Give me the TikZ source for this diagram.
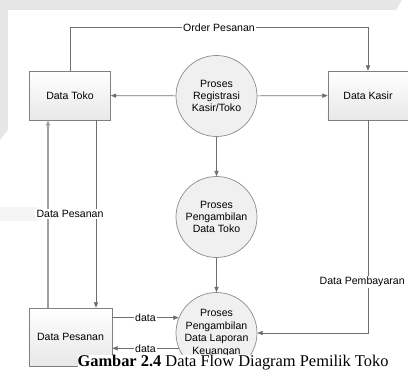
\documentclass[tikz,border=0pt]{standalone}
\usepackage{fontspec}
\setmainfont{Liberation Sans}
\newfontfamily\captionfont{Liberation Serif}
\usepackage{tikz}
\usetikzlibrary{arrows.meta, positioning, calc}

\definecolor{linegray}{HTML}{6E6E6E}
\definecolor{lightline}{HTML}{A0A0A0}
\definecolor{bordergray}{HTML}{808080}
\definecolor{pagegray}{HTML}{E6E6E6}

\begin{document}
\begin{tikzpicture}[x=0.03cm, y=-0.03cm,
    font=\fontsize{9}{10.6}\selectfont,
    store/.style={draw=bordergray, line width=0.6pt, top color=white, bottom color=black!9,
        minimum width=2.43cm, minimum height=1.47cm, inner sep=0pt},
    proc/.style={circle, draw=bordergray!90, line width=0.6pt, fill=black!6,
        minimum size=2.43cm, inner sep=0pt, align=center},
    flow/.style={draw=linegray, line width=0.6pt,
        -{Triangle[length=4.5pt, width=3.6pt]}},
    flowlight/.style={flow, draw=lightline, line width=1pt},
    lbl/.style={fill=white, inner sep=1pt}]
    \useasboundingbox (0,0) rectangle (408,370);

    % Page background
    \fill[pagegray] (0,0) -- (402,0) -- (396,10) -- (8,10) -- (8,130) -- (0,140) -- cycle;
    \fill[black!4] (0,207) rectangle (38,221);

    % Stores
    \node[store] (toko) at (70,95.5) {Data Toko};
    \node[store, minimum width=2.4cm] (kasir) at (368,95.5) {Data Kasir};
    \node[store, minimum width=2.49cm, minimum height=1.74cm] (pesanan) at (70.5,337) {Data Pesanan};

    % Processes
    \node[proc] (regis) at (216.5,96) {Proses\\Registrasi\\Kasir/Toko};
    \node[proc] (ambiltoko) at (216.5,217) {Proses\\Pengambilan\\Data Toko};
    \node[proc] (laporan) at (216.5,333) {Proses\\Pengambilan\\Data Laporan\\Keuangan};

    % Flows
    \draw[flow] (toko.north) -- ++(0,-43) -| node[lbl, pos=0.25] (lblorder) {Order Pesanan} (kasir.north);
    \draw[flow] (regis) -- (toko);
    \draw[flow] (regis) -- (kasir);
    \draw[flow] (regis) -- (ambiltoko);
    \draw[flow] (ambiltoko) -- (laporan);
    \draw[flowlight] ([xshift=-0.675cm]pesanan.north) -- ([xshift=-0.675cm]pesanan.north |- toko.south);
    \draw[flow] ([xshift=0.78cm]toko.south) -- ([xshift=0.78cm]toko.south |- pesanan.north);
    \node[lbl] (lblpesanan) at (70,214) {Data Pesanan};
    \draw[flow] (kasir.south) |- node[lbl, pos=0.38, xshift=-5pt] (lblbayar) {Data Pembayaran} (laporan.east);
    \draw[flow] (pesanan.east |- laporan.158) -- node[lbl, pos=0.5] (lbldata1) {data} (laporan.158);
    \draw[flow] (laporan.202) -- node[lbl, pos=0.5] (lbldata2) {data} (pesanan.east |- laporan.202);

    % Caption
    \node[fill=white, inner sep=0pt, font=\captionfont\fontsize{14}{16}\selectfont] (caption) at (233,362.5)
        {\textbf{Gambar 2.4} Data Flow Diagram Pemilik Toko};
\end{tikzpicture}
\end{document}
